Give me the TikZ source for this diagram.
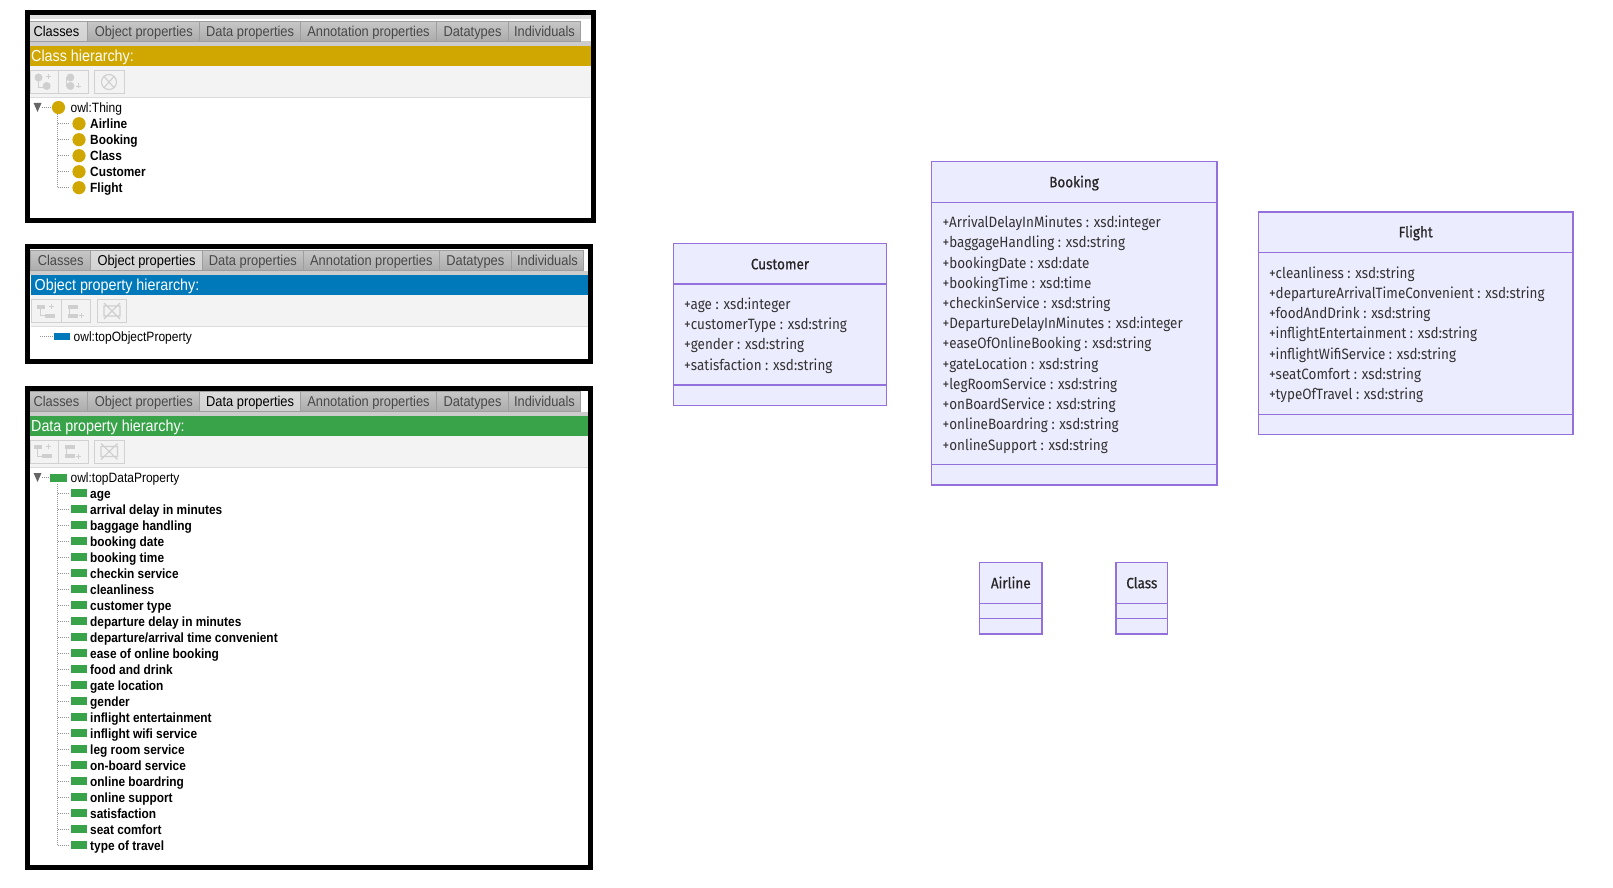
\documentclass[tikz,border=0pt]{standalone}
\usepackage{fontspec}
\setmainfont{Liberation Sans}
\newfontfamily\tabfont[FakeStretch=0.9]{Liberation Sans}
\newfontfamily\treefont[FakeStretch=0.89]{Liberation Sans}
\newfontfamily\treebold[FakeStretch=0.89]{Liberation Sans Bold}
\newfontfamily\umlfont[FakeStretch=0.9]{Fira Sans}
\definecolor{umlfill}{HTML}{ECECFF}
\definecolor{umlline}{HTML}{9370DB}
\definecolor{umltext}{HTML}{333333}
\definecolor{classcol}{HTML}{D0A600}
\definecolor{objcol}{HTML}{0079BA}
\definecolor{datacol}{HTML}{38A349}
\definecolor{barbg}{HTML}{F3F3F3}
\definecolor{iconcol}{HTML}{CFCFCF}
\tikzset{
  x=1pt,y=-1pt,
  frame/.style={draw=black,line width=5pt},
  tabtext/.style={inner sep=0pt,anchor=base,font=\tabfont\fontsize{14.3}{16}\selectfont},
  bartext/.style={inner sep=0pt,anchor=base west,text=white,font=\tabfont\fontsize{15.9}{17}\selectfont},
  itemreg/.style={inner sep=0pt,anchor=base west,text=black,font=\treefont\fontsize{13.5}{15}\selectfont},
  itembold/.style={inner sep=0pt,anchor=base west,text=black,font=\treebold\fontsize{13.35}{15}\selectfont},
  treeline/.style={draw=gray!85,line width=0.7pt,dash pattern=on 1pt off 1pt},
  toolbtn/.style={draw=black!18,line width=0.8pt,fill=barbg},
  umlbox/.style={draw=umlline,fill=umlfill,line width=1.4pt},
  umlrule/.style={draw=umlline,line width=1.2pt},
  umlattr/.style={inner sep=0pt,anchor=base west,text=umltext,font=\umlfont\fontsize{14.95}{16}\selectfont},
  umltitle/.style={inner sep=0pt,anchor=base,text=black!85,font=\umlfont\fontsize{15}{16}\selectfont\addfontfeature{FakeBold=0.6}},
}
% tabs: y top, y bottom, active index, list x0/x1/label
\newcommand{\tabrow}[4]{%
  \foreach \xa/\xb/\lab [count=\ti] in {#4} {%
    \ifnum\ti=#3\relax
      \def\tc{black}\def\ta{black!14}\def\tb{black!18}%
    \else
      \def\tc{black!72}\def\ta{black!22}\def\tb{black!33}%
    \fi
    \path[draw=black!38,line width=0.9pt,top color=\ta,bottom color=\tb] (\xa,#1) rectangle (\xb,#2);
    \node[tabtext,text=\tc] at ({(\xa+\xb)/2},{#1+15}) {\lab};
  }%
}
% toolbar icons
\newcommand{\roundicons}[3]{% x1,x2,y
  \fill[iconcol] (#1-5,#3-4.5) circle (4);
  \fill[iconcol] (#1+3.2,#3+4) circle (4);
  \draw[iconcol,line width=0.9pt] (#1-5,#3-2) |- (#1+1,#3+5) (#1+4.5,#3-8) -- (#1+4.5,#3-3) (#1+2,#3-5.5) -- (#1+7,#3-5.5);
  \fill[iconcol] (#2-0.6,#3-4.5) circle (4);
  \fill[iconcol] (#2-0.6,#3+4) circle (4);
  \draw[iconcol,line width=0.9pt] (#2-1,#3-5) -| (#2-5,#3+4) -- (#2-1,#3+4) (#2+7,#3+1.5) -- (#2+7,#3+6.5) (#2+4.5,#3+4) -- (#2+9.5,#3+4);
}
\newcommand{\baricons}[3]{%
  \fill[iconcol] (#1-10,#3-6.5) rectangle (#1-2,#3-2.5);
  \fill[iconcol] (#1-2,#3+2.5) rectangle (#1+8.5,#3+6.5);
  \draw[iconcol,line width=0.9pt] (#1-6,#3-3) |- (#1-2,#3+4.5) (#1+4.5,#3-7.5) -- (#1+4.5,#3-2.5) (#1+2,#3-5) -- (#1+7,#3-5);
  \fill[iconcol] (#2-6,#3-6.5) rectangle (#2+4,#3-2.5);
  \fill[iconcol] (#2-6,#3+2.5) rectangle (#2+4,#3+6.5);
  \draw[iconcol,line width=0.9pt] (#2-5,#3-3) -- (#2-5,#3+3) (#2+4.5,#3+4.5) -- (#2+9.5,#3+4.5) (#2+7,#3+2) -- (#2+7,#3+7);
}
\begin{document}
\begin{tikzpicture}
\useasboundingbox[fill=white] (0,0) rectangle (1613,888);

%% ---------- Panel 1: classes
\fill[black!12] (30,15) rectangle (591,19);
\fill[black!20] (30,41) rectangle (591,46);
\tabrow{21.5}{41}{1}{25/87.8/Classes,87.8/199.7/Object properties,199.7/300.5/Data properties,300.5/436.5/Annotation properties,436.5/508.5/Datatypes,508.5/580.5/Individuals}
\fill[classcol] (30,46) rectangle (591,66);
\node[bartext] (classhead) at (31,62) {Class hierarchy:};
\fill[barbg] (30,66) rectangle (591,97.5);
\draw[black!14,line width=0.9pt] (30,97.7) -- (591,97.7);
\draw[toolbtn] (30,70) rectangle (58,93.7);
\draw[toolbtn] (58,70) rectangle (88,93.7);
\draw[toolbtn] (94.5,70) rectangle (124,93.7);
\roundicons{43.5}{71}{82}
\draw[iconcol,line width=1.1pt] (109,82) circle (7.5) (103.5,76) -- (114.5,88) (114.5,76) -- (103.5,88);
\fill[black!60] (33.6,103) -- (41.5,103) -- (37.5,112) -- cycle;
\draw[treeline] (41.5,107.7) -- (52,107.7);
\draw[treeline] (57.7,114) -- (57.7,187.7);
\fill[classcol] (58.5,107.5) circle (6.6);
\node[itemreg] (thing) at (70.4,112.3) {owl:Thing};
\foreach \lab [count=\i from 0] in {Airline,Booking,Class,Customer,Flight} {
  \draw[treeline] (57.7,123.7+16*\i) -- (69,123.7+16*\i);
  \fill[classcol] (79,123.7+16*\i) circle (6.6);
  \node[itembold] (cls\i) at (90,128.2+16*\i) {\lab};
}
\draw[frame] (27.5,12.5) rectangle (593.5,220.5);

%% ---------- Panel 2: object properties
\fill[black!20] (30,270.7) rectangle (588,275);
\tabrow{250.7}{270.7}{2}{30.8/90.5/Classes,90.5/202.5/Object properties,202.5/303.3/Data properties,303.3/439.3/Annotation properties,439.3/511.3/Datatypes,511.3/583.6/Individuals}
\fill[objcol] (30.8,275) rectangle (588,295);
\node[bartext] (objhead) at (34.5,290) {Object property hierarchy:};
\fill[barbg] (30.8,295) rectangle (588,326);
\draw[black!14,line width=0.9pt] (30.8,326.3) -- (588,326.3);
\draw[toolbtn] (31,299.7) rectangle (61,322.3);
\draw[toolbtn] (61,299.7) rectangle (90.5,322.3);
\draw[toolbtn] (97.5,299.7) rectangle (126.5,322.3);
\baricons{46.5}{74}{311}
\draw[iconcol,line width=1.1pt] (104,306) rectangle (120,316) (104,303) -- (120,319) (120,303) -- (104,319);
\draw[treeline] (40,336.5) -- (53,336.5);
\fill[objcol] (54,332.7) rectangle (70,340);
\node[itemreg] (topobj) at (73.5,341) {owl:topObjectProperty};
\draw[frame] (27.5,246.5) rectangle (590.5,361.5);

%% ---------- Panel 3: data properties
\fill[black!20] (30,411.7) rectangle (588,416);
\tabrow{391.7}{411.7}{3}{25/87.8/Classes,87.8/199.7/Object properties,199.7/300.5/Data properties,300.5/436.5/Annotation properties,436.5/508.5/Datatypes,508.5/580.5/Individuals}
\fill[datacol] (30,416) rectangle (588,436);
\node[bartext] (datahead) at (31,431) {Data property hierarchy:};
\fill[barbg] (30,436) rectangle (588,467);
\draw[black!14,line width=0.9pt] (30,467.3) -- (588,467.3);
\draw[toolbtn] (30,440) rectangle (58,463.3);
\draw[toolbtn] (58,440) rectangle (88,463.3);
\draw[toolbtn] (94.5,440) rectangle (124,463.3);
\baricons{43.5}{71}{451.5}
\draw[iconcol,line width=1.1pt] (101,446.5) rectangle (117.5,456.5) (101,443.5) -- (117.5,459.5) (117.5,443.5) -- (101,459.5);
\fill[black!60] (33.6,473) -- (41.5,473) -- (37.5,482) -- cycle;
\draw[treeline] (41.5,477.7) -- (49,477.7);
\draw[treeline] (57.7,484) -- (57.7,845.7);
\fill[datacol] (50,474) rectangle (66.5,481.5);
\node[itemreg] (topdata) at (70.4,482.3) {owl:topDataProperty};
\foreach \lab [count=\i from 0] in {age,arrival delay in minutes,baggage handling,booking date,booking time,checkin service,cleanliness,customer type,departure delay in minutes,departure/arrival time convenient,ease of online booking,food and drink,gate location,gender,inflight entertainment,inflight wifi service,leg room service,on-board service,online boardring,online support,satisfaction,seat comfort,type of travel} {
  \draw[treeline] (57.7,493.7+16*\i) -- (69,493.7+16*\i);
  \fill[datacol] (71,489.2+16*\i) rectangle (87,496.7+16*\i);
  \node[itembold] (prop\i) at (90,498.2+16*\i) {\lab};
}
\draw[frame] (27.5,388.5) rectangle (590.5,867.5);

%% ---------- UML: Customer
\draw[umlbox] (673.4,243.3) rectangle (886.6,405.3);
\draw[umlrule] (673.4,284) -- (886.6,284) (673.4,385) -- (886.6,385);
\node[umltitle] (customer) at (780,269.3) {Customer};
\foreach \lab/\yy [count=\i] in {+age : xsd:integer/304.3,+customerType : xsd:string/324.3,+gender : xsd:string/344.3,+satisfaction : xsd:string/365.3} {
  \node[umlattr] (cust\i) at (684,\yy+5) {\lab};
}

%% ---------- UML: Booking
\draw[umlbox] (931.7,161.7) rectangle (1216.8,485);
\draw[umlrule] (931.7,202.3) -- (1216.8,202.3) (931.7,464.7) -- (1216.8,464.7);
\node[umltitle] (booking) at (1074,187.3) {Booking};
\foreach \lab/\yy [count=\i] in {+ArrivalDelayInMinutes : xsd:integer/222.3,+baggageHandling : xsd:string/242.3,+bookingDate : xsd:date/263.3,+bookingTime : xsd:time/283.3,+checkinService : xsd:string/303.3,+DepartureDelayInMinutes : xsd:integer/323.3,+easeOfOnlineBooking : xsd:string/343.3,+gateLocation : xsd:string/364.3,+legRoomService : xsd:string/384.3,+onBoardService : xsd:string/404.3,+onlineBoardring : xsd:string/424.3,+onlineSupport : xsd:string/445.3} {
  \node[umlattr] (book\i) at (942.4,\yy+5) {\lab};
}

%% ---------- UML: Flight
\draw[umlbox] (1258.5,212) rectangle (1573,434.7);
\draw[umlrule] (1258.5,252.7) -- (1573,252.7) (1258.5,414.3) -- (1573,414.3);
\node[umltitle] (flight) at (1415.7,237.3) {Flight};
\foreach \lab/\yy [count=\i] in {+cleanliness : xsd:string/273.3,+departureArrivalTimeConvenient : xsd:string/293.3,+foodAndDrink : xsd:string/313.3,+inflightEntertainment : xsd:string/333.3,+inflightWifiService : xsd:string/354.3,+seatComfort : xsd:string/374.3,+typeOfTravel : xsd:string/394.3} {
  \node[umlattr] (fli\i) at (1268.8,\yy+5) {\lab};
}

%% ---------- UML: Airline, Class
\draw[umlbox] (979.5,562.7) rectangle (1042,634);
\draw[umlrule] (979.5,603.3) -- (1042,603.3) (979.5,618.7) -- (1042,618.7);
\node[umltitle] (airline) at (1010.8,588.3) {Airline};
\draw[umlbox] (1116,562.7) rectangle (1167.5,634);
\draw[umlrule] (1116,603.3) -- (1167.5,603.3) (1116,618.7) -- (1167.5,618.7);
\node[umltitle] (class) at (1141.8,588.3) {Class};
\end{tikzpicture}
\end{document}
